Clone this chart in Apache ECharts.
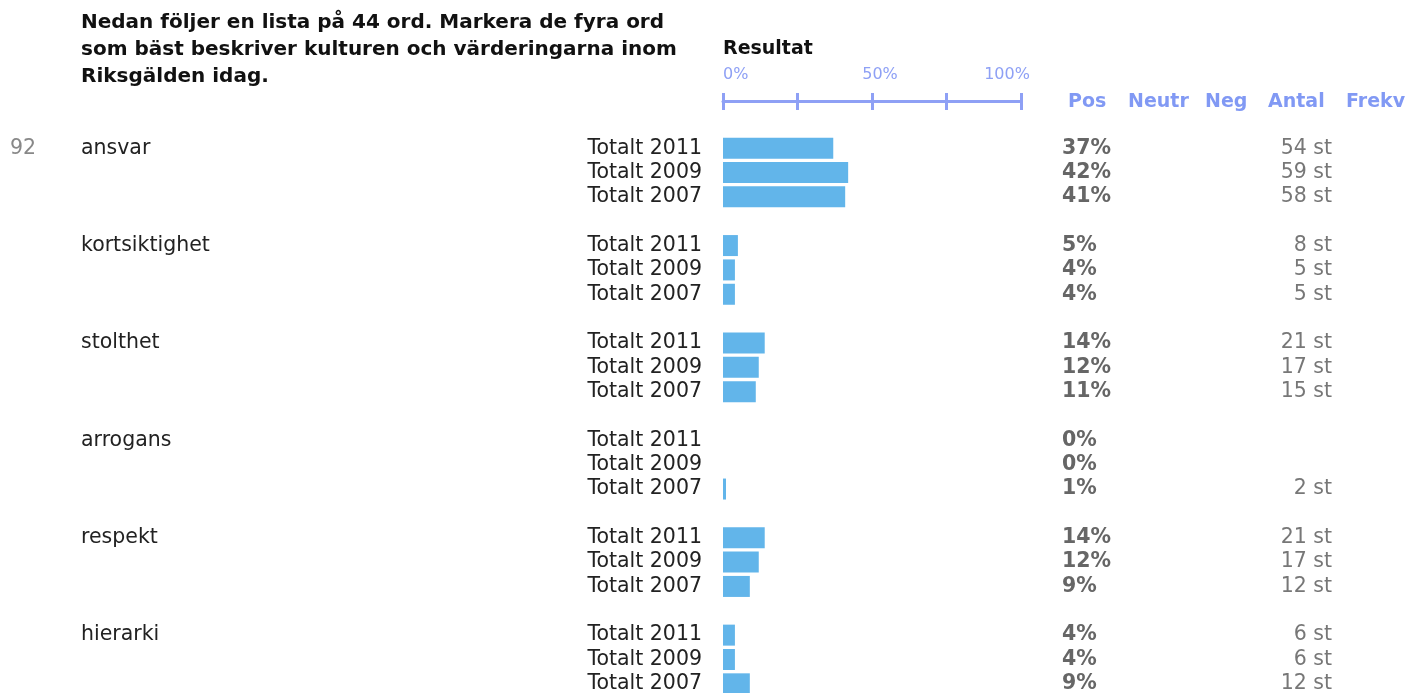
<!DOCTYPE html>
<html>
<head>
<meta charset="utf-8">
<script src="https://cdn.jsdelivr.net/npm/echarts@6/dist/echarts.min.js"></script>
<style>
  html, body { margin: 0; padding: 0; background: #ffffff; overflow: hidden; height: 693px; }
  #chart { width: 1410px; height: 720px; }
</style>
</head>
<body>
<div id="chart"></div>
<script>
// Survey question: pick the four words that best describe the culture
const questionNo = '92';
const questionText = 'Nedan följer en lista på 44 ord. Markera de fyra ord\nsom bäst beskriver kulturen och värderingarna inom\nRiksgälden idag.';
const resultTitle = 'Resultat';
const words = ['ansvar', 'kortsiktighet', 'stolthet', 'arrogans', 'respekt', 'hierarki'];
const years = ['Totalt 2011', 'Totalt 2009', 'Totalt 2007'];

// Share of respondents (%) per word and year
const pct2011 = [37, 5, 14, 0, 14, 4];
const pct2009 = [42, 4, 12, 0, 12, 4];
const pct2007 = [41, 4, 11, 1, 9, 9];

// Number of answers (st) per word and year; null = no answers
const antal2011 = [54, 8, 21, null, 21, 6];
const antal2009 = [59, 5, 17, null, 17, 6];
const antal2007 = [58, 5, 15, 2, 12, 12];

const scaleValues = [0, 50, 100];
const scaleTicks = ['0%', '50%', '100%'];
const columnHeads = ['Pos', 'Neutr', 'Neg', 'Antal', 'Frekv'];

const pctByYear = [pct2011, pct2009, pct2007];
const antalByYear = [antal2011, antal2009, antal2007];

// One category slot per row, with an empty slot between word groups
const slotWord = [], slotYear = [], slotPct = [], slotAntal = [];
words.forEach((w, g) => {
  years.forEach((y, i) => {
    slotWord.push(i === 0 ? w : '');
    slotYear.push(y);
    slotPct.push(pctByYear[i][g]);
    slotAntal.push(antalByYear[i][g]);
  });
  if (g < words.length - 1) {
    slotWord.push(''); slotYear.push(''); slotPct.push(null); slotAntal.push(null);
  }
});
const slotIds = slotYear.map((_, i) => String(i));

const FONT = '"DejaVu Sans", Verdana, sans-serif';
const BODY_SIZE = 20.5;
const SCALE_BLUE = '#8ea0f5';
const HEAD_BLUE = '#8199f4';

function labelAxis(position, label) {
  return {
    type: 'category',
    position: position,
    data: slotIds,
    inverse: true,
    axisLine: { show: false },
    axisTick: { show: false },
    splitLine: { show: false },
    axisLabel: Object.assign({
      interval: 0, hideOverlap: false, fontFamily: FONT, fontSize: BODY_SIZE
    }, label)
  };
}

const yAxes = [
  // year labels next to the bars
  labelAxis('left', {
    margin: 21, align: 'right', color: '#222',
    formatter: (v) => slotYear[+v]
  }),
  // question number and word names
  labelAxis('left', {
    margin: 713, align: 'left', color: '#222',
    formatter: (v) => {
      const i = +v;
      if (!slotWord[i]) return '';
      return '{num|' + (i === 0 ? questionNo : '') + '}{w|' + slotWord[i] + '}';
    },
    rich: {
      num: { width: 71, color: '#888', fontFamily: FONT, fontSize: BODY_SIZE },
      w: { color: '#222', fontFamily: FONT, fontSize: BODY_SIZE }
    }
  }),
  // percentage column
  labelAxis('right', {
    margin: 41, align: 'left', color: '#666', fontWeight: 'bold',
    formatter: (v) => slotPct[+v] == null ? '' : slotPct[+v] + '%'
  }),
  // count column
  labelAxis('right', {
    margin: 311, align: 'right', color: '#777',
    formatter: (v) => slotAntal[+v] == null ? '' : slotAntal[+v] + ' st'
  })
];

// Percentage scale drawn above the bars: ticks crossing the line
const xAxes = [
  {
    type: 'value', position: 'top', offset: 35, min: 0, max: 100, interval: 25,
    splitLine: { show: false },
    axisLine: { show: true, lineStyle: { color: SCALE_BLUE, width: 3 } },
    axisTick: { show: true, inside: true, length: 9, lineStyle: { color: SCALE_BLUE, width: 3 } },
    axisLabel: { show: false }
  },
  {
    type: 'value', position: 'top', offset: 35, min: 0, max: 100, interval: 25,
    splitLine: { show: false },
    axisLine: { show: false },
    axisTick: { show: true, inside: false, length: 8, lineStyle: { color: SCALE_BLUE, width: 3 } },
    axisLabel: { show: false }
  }
];

const headX = [1068, 1128, 1205, 1268, 1346];

const option = {
  backgroundColor: '#ffffff',
  animation: false,
  title: [
    {
      text: questionText, left: 81, top: 9, padding: 0,
      textStyle: { fontFamily: FONT, fontSize: 20, fontWeight: 'bold', color: '#111', lineHeight: 27 }
    },
    {
      text: resultTitle, left: 723, top: 40, padding: 0,
      textStyle: { fontFamily: FONT, fontSize: 19, fontWeight: 'bold', color: '#111' }
    }
  ],
  graphic: columnHeads.map((t, i) => ({
    type: 'text', left: headX[i], top: 93,
    style: { text: t, fill: HEAD_BLUE, font: 'bold 19px ' + FONT }
  })),
  grid: { left: 723, right: 389, top: 136, height: 560, containLabel: false },
  xAxis: xAxes,
  yAxis: yAxes,
  series: [
    {
      type: 'bar',
      xAxisIndex: 0,
      yAxisIndex: 0,
      barWidth: 21,
      data: slotPct.map(v => v == null ? '-' : v),
      itemStyle: { color: '#62b5ea' },
      silent: true
    }
  ]
};

const chart = echarts.init(document.getElementById('chart'), null, { renderer: 'canvas' });
chart.setOption(option);

// Scale labels placed from the x scale: 0% flush left, 50% and 100% nudged
const scaleAlign = ['left', 'center', 'center'];
const scaleNudge = [0, 8, -14];
const scaleGraphics = scaleValues.map((v, i) => {
  const x = chart.convertToPixel({ xAxisIndex: 0 }, v);
  return {
    type: 'text', x: x + scaleNudge[i], y: 83,
    style: {
      text: scaleTicks[i], fill: SCALE_BLUE, font: '16px ' + FONT,
      align: scaleAlign[i], verticalAlign: 'bottom'
    }
  };
});
chart.setOption({ graphic: option.graphic.concat(scaleGraphics) });
</script>
</body>
</html>
